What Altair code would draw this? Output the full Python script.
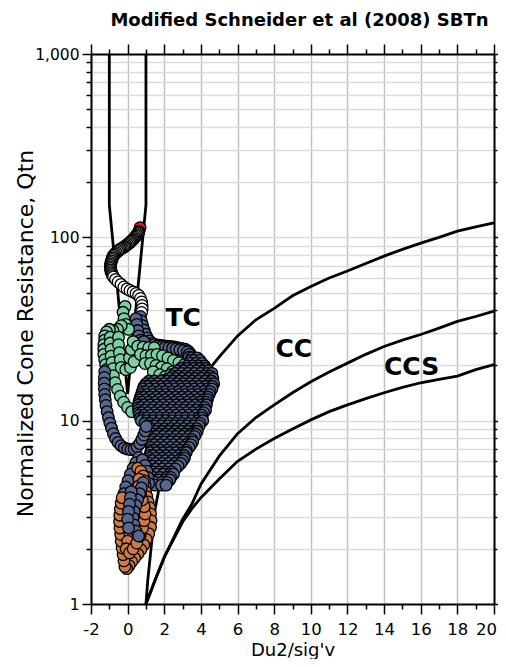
import altair as alt
import pandas as pd

# ---------------- boundary lines (Du2/sig'v, Qtn) ----------------
v_x = [-1, -1, 0, 1, 1]
v_q = [1000, 150, 14, 150, 1000]
upper_x = [1, 1.1, 1.5, 2, 3, 4, 5, 6, 7, 8, 9, 10, 11, 12, 13, 14, 15, 16, 17, 18, 19, 20]
upper_q = [1, 1.35, 3.3, 6.0, 11.3, 16.8, 22.3, 29, 35.5, 41, 48, 54, 60, 65.5, 72, 79, 86, 93, 100, 108, 114, 120]
mid_x = [1, 1.5, 2, 3, 3.5, 4, 5, 6, 7, 8, 9, 10, 11, 12, 13, 14, 15, 16, 17, 18, 19, 20]
mid_q = [1, 1.35, 1.8, 2.9, 3.5, 4.5, 6.4, 8.5, 10.4, 12.2, 14.2, 16.3, 18.4, 20.6, 23, 25.4, 27.5, 29.5, 32, 34.8, 37, 39.6]
low_x = [1, 1.5, 2, 3, 3.5, 4, 5, 6, 7, 8, 9, 10, 11, 12, 13, 14, 15, 16, 17, 18, 19, 20]
low_q = [1, 1.35, 1.8, 2.8, 3.3, 3.8, 4.8, 6.0, 7.0, 8.0, 9.0, 10.1, 11.2, 12.2, 13.2, 14.2, 15.2, 16.1, 16.8, 17.5, 19, 20.2]

# ---------------- zone labels ----------------
label_text = ["TC", "CC", "CCS"]
label_x = [3.03, 9.07, 15.5]
label_q = [36.5, 24.6, 19.6]

# ---------------- CPT points ----------------
red_x = [0.68]
red_q = [113]

white_x = [0.62, 0.60, 0.57, 0.52, 0.46, 0.40, 0.35, 0.30, 0.24, 0.18, 0.13, 0.06, -0.01, -0.08,
           -0.14, -0.21, -0.28, -0.35, -0.42, -0.49, -0.55, -0.62, -0.69, -0.75, -0.80, -0.83,
           -0.85, -0.88, -0.91, -0.92, -0.93, -0.93, -0.93, -0.92, -0.91, -0.88, -0.85, -0.81,
           -0.77, -0.66, -0.52, -0.36, -0.20, -0.03, 0.13, 0.30, 0.46, 0.60, 0.70, 0.76, 0.79,
           0.79, 0.76]
white_q = [107.8, 106.5, 105.2, 103.5, 101.9, 100.3, 98.7, 97.5, 96.3, 95.1, 93.9, 92.7, 91.5, 90.4,
           89.3, 88.4, 87.6, 86.8, 86.0, 84.9, 83.8, 82.5, 81.3, 80.0, 78.7, 77.2,
           75.8, 74.4, 73.0, 71.6, 70.3, 69.0, 67.7, 66.4, 65.2, 64.0, 62.8, 61.8,
           60.8, 59.0, 57.1, 55.4, 53.6, 52.3, 51.3, 50.4, 49.4, 48.2, 46.4, 44.4, 42.5,
           40.7, 38.9]

blue_top_x = [0.70, 0.75, 0.82, 0.90, 0.98, 1.08, 1.20, 1.35, 1.55, 1.75, 1.95, 2.15, 2.35, 2.55,
              2.75, 2.95, 3.15, 3.30, 3.40, 3.45, 3.20, 3.00, 0.45, 0.50, 0.55, 0.60, 0.72, 0.88,
              1.45, 1.65, 1.85, 2.05, 2.25, 2.45, 2.65, 2.85, 3.05, 3.25, 3.35, 3.35]
blue_top_q = [37, 35, 33, 31.2, 29.6, 28.3, 27.2, 26.4, 26.0, 25.8, 25.6, 25.5, 25.4, 25.2,
              25.0, 24.8, 24.5, 24.0, 23.3, 22.5, 22.8, 23.3, 36, 33.5, 31, 29, 27.5, 27,
              26.0, 25.6, 25.3, 25.1, 25.0, 24.8, 24.6, 24.4, 24.1, 23.7, 23.0, 22.2]

green_x = [-0.14, -0.25, -0.20, -0.10, 0.05, -0.35, -0.55, -0.80, -1.00, -1.15, -1.25,
           -1.25, -1.30, -1.30, -1.30, -1.25, -1.20, -1.15,
           -0.95, -0.95, -0.90, -0.90, -0.85, -0.80, -0.78, -0.68, -0.55, -0.40, -0.22, 0.00, 0.22,
           -0.50, -0.50, -0.45, -0.40, -0.35, -0.10, 0.15, 0.10, 0.20, 0.30, 0.35,
           0.55, 0.85, 1.15, 1.45,
           0.70, 1.00, 1.30, 1.60, 1.90, 2.20, 2.50, 2.80, 3.10, 3.35,
           0.95, 1.25, 1.55, 1.85, 2.15, 2.45,
           1.40, 1.75, 2.05, 2.35, 2.00]
green_q = [42, 39, 36, 33.5, 31.5, 33, 31.5, 31, 31.5, 30.5, 29,
           27.5, 26, 24.5, 23, 21.5, 20.2, 19,
           28.5, 26.5, 24.5, 22.5, 20.8, 19.2, 17.6, 16.1, 14.8, 13.6, 12.6, 11.8, 11.2,
           28.5, 26, 23.5, 21.5, 19.5, 19, 19.5, 22, 24.5, 27, 21,
           25.5, 25.2, 25, 25,
           23, 22.6, 22.8, 23, 22.6, 22, 21.3, 20.7, 20.2, 19.8,
           20.5, 20.5, 20, 19.6, 19.2, 18.5,
           18.5, 17.8, 17.4, 17.8, 16.6]

# main cloud, read row by row: (Qtn, [Du2/sig'v ...])
blue_main_rows = [
    (22.0, [3.5, 3.8]),
    (21.3, [3.45, 3.65, 3.95]),
    (20.6, [3.4, 3.75, 4.05]),
    (19.9, [3.25, 3.57, 3.92, 4.2]),
    (19.3, [2.9, 3.25, 3.6, 3.95, 4.25]),
    (18.7, [2.75, 3.07, 3.42, 3.77, 4.12, 4.4]),
    (18.1, [2.6, 2.95, 3.3, 3.65, 4.0, 4.35, 4.6]),
    (17.5, [2.45, 2.77, 3.12, 3.47, 3.82, 4.17, 4.5]),
    (17.0, [2.3, 2.65, 3.0, 3.35, 3.7, 4.05, 4.4, 4.65]),
    (16.45, [1.17, 1.47, 1.82, 2.17, 2.47, 2.82, 3.17, 3.52, 3.87, 4.22, 4.57]),
    (15.9, [1.0, 1.3, 1.65, 2.0, 2.35, 2.7, 3.05, 3.4, 3.75, 4.1, 4.45, 4.7]),
    (15.4, [0.9, 1.15, 1.47, 1.82, 2.17, 2.52, 2.87, 3.22, 3.57, 3.92, 4.27, 4.62]),
    (14.9, [0.85, 1.2, 1.55, 1.9, 2.25, 2.6, 2.95, 3.3, 3.65, 4.0, 4.35, 4.6]),
    (14.4, [0.8, 1.02, 1.37, 1.72, 2.07, 2.42, 2.77, 3.12, 3.47, 3.82, 4.17, 4.5]),
    (13.9, [0.75, 1.05, 1.4, 1.75, 2.1, 2.45, 2.8, 3.15, 3.5, 3.85, 4.2, 4.45]),
    (13.45, [0.7, 0.9, 1.22, 1.57, 1.92, 2.27, 2.62, 2.97, 3.32, 3.67, 4.02, 4.37]),
    (13.0, [0.65, 1.0, 1.35, 1.7, 2.05, 2.4, 2.75, 3.1, 3.45, 3.8, 4.15, 4.35]),
    (12.6, [0.62, 0.82, 1.17, 1.52, 1.87, 2.22, 2.57, 2.92, 3.27, 3.62, 3.97, 4.3]),
    (12.2, [0.6, 0.9, 1.25, 1.6, 1.95, 2.3, 2.65, 3.0, 3.35, 3.7, 4.05, 4.3]),
    (11.8, [0.6, 0.75, 1.07, 1.42, 1.77, 2.12, 2.47, 2.82, 3.17, 3.52, 3.87, 4.2]),
    (11.4, [0.6, 0.95, 1.3, 1.65, 2.0, 2.35, 2.7, 3.05, 3.4, 3.75, 4.1, 4.25]),
    (11.05, [0.62, 0.77, 1.12, 1.47, 1.82, 2.17, 2.52, 2.87, 3.22, 3.57, 3.92, 4.15]),
    (10.7, [0.65, 0.9, 1.25, 1.6, 1.95, 2.3, 2.65, 3.0, 3.35, 3.7, 4.05]),
    (10.35, [0.7, 0.85, 1.07, 1.42, 1.77, 2.12, 2.47, 2.82, 3.17, 3.52, 3.87, 4.05]),
    (10.0, [0.75, 1.05, 1.4, 1.75, 2.1, 2.45, 2.8, 3.15, 3.5, 3.85, 4.1]),
    (9.65, [0.95, 1.22, 1.57, 1.92, 2.27, 2.62, 2.97, 3.32, 3.67, 3.95]),
    (9.35, [1.15, 1.5, 1.85, 2.2, 2.55, 2.9, 3.25, 3.6, 3.9]),
    (9.05, [1.17, 1.32, 1.67, 2.02, 2.37, 2.72, 3.07, 3.42, 3.77]),
    (8.75, [1.2, 1.55, 1.9, 2.25, 2.6, 2.95, 3.3, 3.65, 3.8]),
    (8.45, [1.22, 1.37, 1.72, 2.07, 2.42, 2.77, 3.12, 3.47, 3.72]),
    (8.2, [1.25, 1.6, 1.95, 2.3, 2.65, 3.0, 3.35, 3.65]),
    (7.9, [1.27, 1.42, 1.77, 2.12, 2.47, 2.82, 3.17, 3.5]),
    (7.65, [1.3, 1.65, 2.0, 2.35, 2.7, 3.05, 3.4, 3.55]),
    (7.4, [1.3, 1.47, 1.82, 2.17, 2.52, 2.87, 3.22, 3.45]),
    (7.15, [1.3, 1.65, 2.0, 2.35, 2.7, 3.05, 3.35]),
    (6.9, [1.3, 1.47, 1.82, 2.17, 2.52, 2.87, 3.2]),
    (6.7, [1.25, 1.6, 1.95, 2.3, 2.65, 3.0, 3.2]),
    (6.45, [1.22, 1.42, 1.77, 2.12, 2.47, 2.82, 3.1]),
    (6.25, [1.2, 1.55, 1.9, 2.25, 2.6, 2.95, 3.1]),
    (6.05, [1.2, 1.37, 1.72, 2.07, 2.42, 2.77, 3.0]),
    (5.85, [1.2, 1.55, 1.9, 2.25, 2.6, 2.9]),
    (5.65, [1.2, 1.37, 1.72, 2.07, 2.42, 2.75]),
    (5.45, [1.2, 1.55, 1.9, 2.25, 2.6]),
    (5.25, [1.2, 1.37, 1.72, 2.07, 2.4]),
    (5.1, [1.25, 1.6, 1.95, 2.3, 2.5]),
    (4.9, [1.3, 1.42, 1.77, 2.12, 2.35]),
    (4.75, [1.35, 1.7, 2.05, 2.3]),
    (4.6, [1.42, 1.52, 1.87, 2.15]),
    (4.45, [1.5, 1.85, 2.1]),
]

hook_x = [-1.25, -1.27, -1.28, -1.27, -1.25, -1.22, -1.18, -1.12, -1.05, -0.97, -0.88, -0.78, -0.66,
          -0.52, -0.36, -0.18, 0.0, 0.18, 0.36, 0.52, 0.66, 0.78, 0.88, 0.96, 1.02]
hook_q = [18.5, 17.2, 16.0, 14.9, 13.9, 13.0, 12.1, 11.2, 10.4, 9.7, 9.1, 8.5, 8.0,
          7.6, 7.3, 7.1, 7.0, 6.95, 7.0, 7.2, 7.5, 7.9, 8.35, 8.8, 9.3]

blue_low_x = [0.6, 0.45, 0.3, 0.15, 0.02, -0.1, -0.2, -0.28, -0.33, 0.8, 0.95, 1.05, 1.1, 1.15]
blue_low_q = [6.3, 5.9, 5.5, 5.1, 4.7, 4.35, 4.0, 3.7, 3.4, 6.1, 5.7, 5.3, 4.9, 4.55]

orange_x = [0.55, 0.72, 0.85, 0.92, 0.95, 0.98, 1.05, 1.12, 1.2, 1.25, 1.28, 1.25, 1.15, 1.02, 0.88,
            0.72, 0.55, 0.38, 0.22, 0.08, -0.05, -0.15, -0.2, -0.25, -0.3, -0.35, -0.38, -0.42,
            -0.44, -0.43, -0.4, -0.35, -0.3,
            0.62, 0.6, 0.55, 0.52, 0.48, 0.42, 0.35, 0.25, 0.12, 0.0, -0.08, 0.1, 0.3, 0.5, 0.68,
            0.82, 0.9, 0.95, 0.9, 0.8, 0.7]
orange_q = [5.5, 5.3, 5.0, 4.7, 4.4, 4.1, 3.85, 3.6, 3.35, 3.1, 2.85, 2.62, 2.42, 2.25, 2.1,
            1.98, 1.87, 1.78, 1.7, 1.62, 1.56, 1.6, 1.72, 1.86, 2.02, 2.2, 2.4, 2.6,
            2.82, 3.05, 3.3, 3.55, 3.8,
            4.8, 4.4, 4.05, 3.75, 3.45, 3.15, 2.9, 2.65, 2.42, 2.2, 2.0, 1.9, 2.0, 2.15, 2.35,
            2.6, 2.85, 3.1, 3.4, 3.7, 4.0]

blue_in_x = [0.85, 0.75, 0.65, 0.55, 0.45, 0.35, 0.3, 0.35, 0.45, 0.6, 0.2, 0.15, 0.1, 0.05, 0.0, 0.05]
blue_in_q = [4.6, 4.3, 4.0, 3.7, 3.45, 3.2, 2.95, 2.7, 2.5, 2.35, 4.1, 3.8, 3.5, 3.2, 2.9, 2.6]

# ---------------- axis tick values ----------------
x_ticks = [-2, -1, 0, 1, 2, 3, 4, 5, 6, 7, 8, 9, 10, 11, 12, 13, 14, 15, 16, 17, 18, 19, 20]
y_ticks = [1, 2, 3, 4, 5, 6, 7, 8, 9, 10, 20, 30, 40, 50, 60, 70, 80, 90,
           100, 200, 300, 400, 500, 600, 700, 800, 900, 1000]

# ---------------- build tables ----------------
def grp_frame(xv, qv, grp):
    return pd.DataFrame({"x": xv, "q": qv, "grp": grp})

bm_x = [x for q, row in blue_main_rows for x in row]
bm_q = [q for q, row in blue_main_rows for x in row]

pts = pd.concat([
    grp_frame(red_x, red_q, "red"),
    grp_frame(white_x, white_q, "white"),
    grp_frame(blue_top_x, blue_top_q, "blue"),
    grp_frame(green_x, green_q, "green"),
    grp_frame(bm_x, bm_q, "blue"),
    grp_frame(hook_x, hook_q, "blue"),
    grp_frame(blue_low_x, blue_low_q, "blue"),
    grp_frame(orange_x, orange_q, "orange"),
    grp_frame(blue_in_x, blue_in_q, "blue"),
], ignore_index=True)
pts["ord"] = range(len(pts))

def line_frame(xv, qv, lid):
    return pd.DataFrame({"x": xv, "q": qv, "id": lid, "seq": range(len(xv))})

lines = pd.concat([
    line_frame(v_x, v_q, "v"),
    line_frame(upper_x, upper_q, "upper"),
    line_frame(mid_x, mid_q, "mid"),
    line_frame(low_x, low_q, "low"),
], ignore_index=True)

labels = pd.DataFrame({"x": label_x, "q": label_q, "t": label_text})

# ---------------- scales & axes ----------------
xs = alt.Scale(domain=[-2, 20], nice=False, zero=False)
ys = alt.Scale(type="log", domain=[1, 1000], nice=False)

is_even = "datum.value % 2 == 0"
is_decade = "indexof([1, 10, 100, 1000], datum.value) >= 0"

x_tick_size = {"condition": {"test": is_even, "value": 10}, "value": 5}
y_tick_size = {"condition": {"test": is_decade, "value": 9}, "value": 5}

x_bottom = alt.Axis(
    orient="bottom", values=x_ticks, tickSize=x_tick_size,
    labelExpr=f"{is_even} ? toString(datum.value) : ''",
    labelFontSize=16.5, labelPadding=7, labelFlush=False, labelOverlap=False,
    labelOffset={"condition": {"test": "datum.value == 20", "value": -8}, "value": 0},
    title="Du2/sig'v", titleFontSize=18, titleFontWeight="normal",
    titleBaseline="alphabetic", titleY=51,
    grid=True, gridColor="#c2c2c2", gridWidth=1.5,
    gridOpacity={"condition": {"test": is_even, "value": 1}, "value": 0},
)
y_left = alt.Axis(
    orient="left", values=y_ticks, tickSize=y_tick_size,
    labelExpr=f"{is_decade} ? format(datum.value, ',') : ''",
    labelFontSize=15.5, labelPadding=3, labelFlush=False, labelOverlap=False,
    title="Normalized Cone Resistance, Qtn", titleFontSize=22, titleFontWeight="normal",
    titleBaseline="bottom", titleX=-54, titleY=279,
    grid=True, gridColor="#dcdcdc", gridWidth=1.5,
)
x_top = alt.Axis(orient="top", values=x_ticks, tickSize=x_tick_size, labels=False, title=None, grid=False)
y_right = alt.Axis(orient="right", values=y_ticks,
                   tickSize={"condition": {"test": is_decade, "value": 4}, "value": 3},
                   labels=False, title=None, grid=False)

line_layer = alt.Chart(lines).mark_line(color="black", strokeWidth=2.8).encode(
    x=alt.X("x:Q", scale=xs, axis=x_bottom),
    y=alt.Y("q:Q", scale=ys, axis=y_left),
    detail="id:N",
    order="seq:Q",
)

point_layer = alt.Chart(pts).mark_circle(size=135, stroke="black", strokeWidth=1.3, opacity=1).encode(
    x=alt.X("x:Q", scale=xs, axis=None),
    y=alt.Y("q:Q", scale=ys, axis=None),
    color=alt.Color(
        "grp:N",
        scale=alt.Scale(domain=["red", "white", "green", "blue", "orange"],
                        range=["#e3141c", "#ffffff", "#7ccfa4", "#56688f", "#d07b45"]),
        legend=None,
    ),
    order="ord:Q",
)

text_layer = alt.Chart(labels).mark_text(
    fontSize=25, fontWeight="bold", font="DejaVu Sans", color="black",
    align="center", baseline="middle",
).encode(
    x=alt.X("x:Q", scale=xs, axis=x_top),
    y=alt.Y("q:Q", scale=ys, axis=y_right),
    text="t:N",
)

chart = alt.layer(line_layer, point_layer, text_layer).resolve_axis(
    x="independent", y="independent"
).properties(
    width=403,
    height=550,
    padding={"left": 83, "top": 46, "right": 4, "bottom": 55},
    autosize=alt.AutoSizeParams(type="none"),
    title=alt.TitleParams(
        "Modified Schneider et al (2008) SBTn",
        fontSize=18, fontWeight="bold", font="DejaVu Sans", color="black",
        offset=13, frame="group", anchor="middle", dx=7,
    ),
).configure_axis(
    domainColor="black", domainWidth=2, tickColor="black", tickWidth=1.5,
    labelColor="black", titleColor="black", labelFont="DejaVu Sans", titleFont="DejaVu Sans",
).configure_view(stroke=None)

chart.save("out.html", embed_options={"renderer": "svg", "actions": False})
